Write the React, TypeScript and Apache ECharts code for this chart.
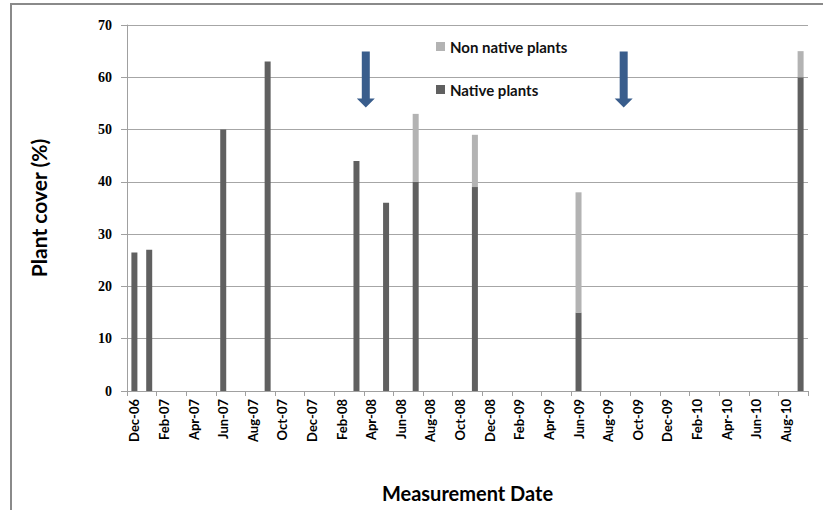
import React, { useEffect, useRef } from "react";
import * as echarts from "echarts";

// ---- Data ----
const monthNames = ["Jan", "Feb", "Mar", "Apr", "May", "Jun", "Jul", "Aug", "Sep", "Oct", "Nov", "Dec"];
const firstYear = 2006;
const firstMonthIndex = 11; // December
const monthCount = 46; // Dec-06 .. Sep-10

const categories: string[] = Array.from({ length: monthCount }, (_, i) => {
  const m = (firstMonthIndex + i) % 12;
  const y = firstYear + Math.floor((firstMonthIndex + i) / 12);
  return `${monthNames[m]}-${String(y % 100).padStart(2, "0")}`;
});

const measurementMonths = ["Dec-06", "Jan-07", "Jun-07", "Sep-07", "Mar-08", "May-08", "Jul-08", "Nov-08", "Jun-09", "Sep-10"];
const nativeCover = [26.5, 27, 50, 63, 44, 36, 40, 39, 15, 60];
const nonNativeCover = [0, 0, 0, 0, 0, 0, 13, 10, 23, 5];

// arrows: position in months from the start of Dec-06, value on the y scale
const arrowMonths = [16.13, 33.55];
const arrowValue = 59.6;

const yTicks = [0, 10, 20, 30, 40, 50, 60, 70];

export default function App() {
  const ref = useRef<HTMLDivElement>(null);

  useEffect(() => {
    if (!ref.current) return;
    const chart = echarts.init(ref.current, null, { renderer: "svg" });

    const byMonth = (vals: number[]) =>
      categories.map((c) => {
        const i = measurementMonths.indexOf(c);
        if (i < 0 || !vals[i]) return null;
        return vals[i];
      });

    const option: any = {
      animation: false,
      backgroundColor: "#ffffff",
      grid: { left: 127, top: 25, width: 681, height: 366, containLabel: false },
      legend: {
        data: ["Non native plants", "Native plants"],
        orient: "vertical",
        left: 431,
        top: 33,
        itemWidth: 9,
        itemHeight: 9,
        itemGap: 26,
        icon: "rect",
        textStyle: { fontFamily: "Lato", fontWeight: "bold", fontSize: 15, color: "#111", lineHeight: 17 },
      },
      xAxis: [
        {
          type: "category",
          data: categories,
          boundaryGap: true,
          name: "Measurement Date",
          nameLocation: "middle",
          nameGap: 92,
          nameTextStyle: { fontFamily: "Lato", fontWeight: "bold", fontSize: 20, color: "#000" },
          axisLine: { lineStyle: { color: "#a0a0a0", width: 1 } },
          axisTick: { show: true, interval: 1, length: 5, lineStyle: { color: "#a0a0a0" } },
          axisLabel: {
            interval: 1,
            rotate: 90,
            margin: 8,
            fontFamily: "Lato",
            fontWeight: "bold",
            fontSize: 13,
            color: "#000",
          },
          splitLine: { show: false },
        },
        {
          type: "value",
          min: 0,
          max: monthCount,
          show: false,
          gridIndex: 0,
        },
      ],
      yAxis: {
        type: "value",
        min: 0,
        max: 70,
        interval: 10,
        name: "Plant cover (%)",
        nameLocation: "middle",
        nameGap: 78,
        nameTextStyle: { fontFamily: "Lato", fontWeight: "bold", fontSize: 21, color: "#000" },
        axisLine: { show: true, lineStyle: { color: "#a0a0a0", width: 1 } },
        axisTick: { show: true, length: 6, lineStyle: { color: "#a0a0a0" } },
        axisLabel: {
          margin: 15,
          fontFamily: "Liberation Serif",
          fontWeight: "bold",
          fontSize: 14,
          color: "#000",
          formatter: (v: number) => (yTicks.includes(v) ? String(v) : ""),
        },
        splitLine: { show: true, lineStyle: { color: "#a6a6a6", width: 1 } },
      },
      series: [
        {
          name: "Native plants",
          type: "bar",
          stack: "cover",
          barWidth: 6,
          itemStyle: { color: "#606060" },
          data: byMonth(nativeCover),
        },
        {
          name: "Non native plants",
          type: "bar",
          stack: "cover",
          barWidth: 6,
          itemStyle: { color: "#b3b3b3" },
          data: byMonth(nonNativeCover),
        },
        {
          name: "arrows",
          type: "scatter",
          xAxisIndex: 1,
          yAxisIndex: 0,
          symbol: "path://M5,0L13,0L13,47L18,47L9,56L0,47L5,47Z",
          symbolSize: [18, 56],
          itemStyle: { color: "#395d8c", opacity: 1 },
          silent: true,
          data: arrowMonths.map((m) => [m, arrowValue]),
        },
      ],
      graphic: [
        {
          type: "rect",
          shape: { x: 11, y: 4, width: 830, height: 520 },
          style: { fill: "none", stroke: "#8a8a8a", lineWidth: 2 },
          silent: true,
          z: 100,
        },
      ],
    };

    chart.setOption(option);
    return () => chart.dispose();
  }, []);

  return (
    <div
      ref={ref}
      style={{ position: "fixed", left: 0, top: 0, width: 823, height: 510, background: "#fff" }}
    />
  );
}
